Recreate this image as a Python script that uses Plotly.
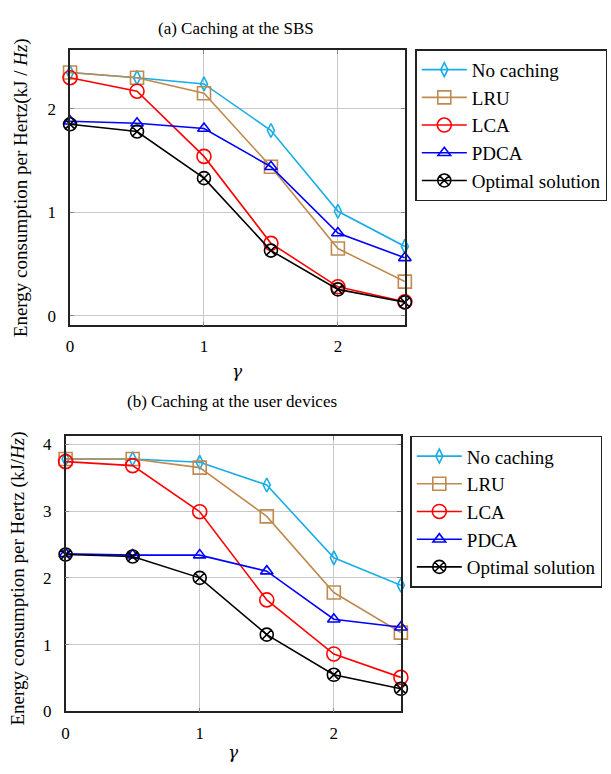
import plotly.graph_objects as go

gamma = [0, 0.5, 1, 1.5, 2, 2.5]
series_names = ["No caching", "LRU", "LCA", "PDCA", "Optimal solution"]

# (a) Caching at the SBS
sbs_no_caching = [2.35, 2.30, 2.24, 1.79, 1.01, 0.67]
sbs_lru = [2.35, 2.30, 2.15, 1.44, 0.65, 0.33]
sbs_lca = [2.30, 2.17, 1.54, 0.70, 0.28, 0.135]
sbs_pdca = [1.88, 1.86, 1.81, 1.44, 0.80, 0.56]
sbs_optimal = [1.85, 1.78, 1.33, 0.63, 0.255, 0.13]

# (b) Caching at the user devices
ud_no_caching = [3.78, 3.78, 3.73, 3.39, 2.30, 1.89]
ud_lru = [3.78, 3.78, 3.65, 2.92, 1.78, 1.18]
ud_lca = [3.74, 3.68, 2.99, 1.67, 0.86, 0.51]
ud_pdca = [2.36, 2.34, 2.34, 2.10, 1.38, 1.26]
ud_optimal = [2.35, 2.32, 2.00, 1.15, 0.55, 0.34]

colors = ["#19ADE8", "#C08A4E", "#FF0000", "#0000FF", "#000000"]
symbols = ["diamond-tall-open", "square-open", "circle-open", "triangle-up-open", "circle-x-open"]
sizes = [10, 13, 14, 11, 13]

FONT = "Liberation Serif"
W, H = 611, 774

def px_x(a, b):
    return [a / W, b / W]

def px_y(top, bottom):
    return [1 - bottom / H, 1 - top / H]

fig = go.Figure()

for data, xa, ya, lg in [
    ([sbs_no_caching, sbs_lru, sbs_lca, sbs_pdca, sbs_optimal], "x", "y", "legend"),
    ([ud_no_caching, ud_lru, ud_lca, ud_pdca, ud_optimal], "x2", "y2", "legend2"),
]:
    for name, vals, c, s, sz in zip(series_names, data, colors, symbols, sizes):
        fig.add_trace(go.Scatter(
            x=gamma, y=vals, name=name, mode="lines+markers",
            line=dict(color=c, width=1.6),
            marker=dict(symbol=s, size=sz, color=c, line=dict(color=c, width=1.6)),
            xaxis=xa, yaxis=ya, legend=lg, cliponaxis=False,
        ))

axis_common = dict(
    showgrid=True, gridcolor="#C8C8C8", gridwidth=1,
    showline=True, linecolor="#222222", linewidth=1.5, mirror="ticks",
    ticks="inside", ticklen=4, tickcolor="#888888",
    zeroline=False, tickfont=dict(family=FONT, size=17, color="black"),
)

legend_common = dict(
    xanchor="left", yanchor="top",
    bordercolor="#222222", borderwidth=1.5, bgcolor="white",
    font=dict(family=FONT, size=19), tracegroupgap=0, itemwidth=45,
)

fig.update_layout(
    width=W, height=H,
    margin=dict(l=0, r=0, t=0, b=0),
    paper_bgcolor="white", plot_bgcolor="white",
    font=dict(family=FONT, size=16, color="black"),
    xaxis=dict(domain=px_x(66.5, 403.5), range=[0, 2.5], tickvals=[0, 1, 2], anchor="y",
               ticklabelstandoff=5, **axis_common),
    yaxis=dict(domain=px_y(50, 329), range=[-0.092, 2.565], tickvals=[0, 1, 2], anchor="x",
               ticklabelstandoff=9, **axis_common),
    xaxis2=dict(domain=px_x(62, 399.5), range=[0, 2.5], tickvals=[0, 1, 2], anchor="y2",
                ticklabelstandoff=5, **axis_common),
    yaxis2=dict(domain=px_y(441.5, 720.7), range=[0, 4.12], tickvals=[0, 1, 2, 3, 4], anchor="x2",
                ticklabelstandoff=9, **axis_common),
    legend=dict(x=414 / W, y=1 - 49 / H, **legend_common),
    legend2=dict(x=409 / W, y=1 - 441 / H, **legend_common),
    annotations=[
        dict(text="(a) Caching at the SBS", x=234 / W, y=1 - 16 / H, xref="paper", yref="paper",
             showarrow=False, font=dict(family=FONT, size=17)),
        dict(text="(b) Caching at the user devices", x=230 / W, y=1 - 406 / H, xref="paper", yref="paper",
             showarrow=False, font=dict(family=FONT, size=17)),
        dict(text="Energy consumption per Hertz(kJ / <i>Hz</i>)", x=17 / W, y=1 - 189 / H,
             xref="paper", yref="paper", xanchor="center", yanchor="middle",
             textangle=-90, showarrow=False, font=dict(family=FONT, size=19)),
        dict(text="Energy consumption per Hertz (kJ/<i>Hz</i>)", x=14 / W, y=1 - 586 / H,
             xref="paper", yref="paper", xanchor="center", yanchor="middle",
             textangle=-90, showarrow=False, font=dict(family=FONT, size=19)),
        dict(text="<i>γ</i>", x=235 / W, y=1 - 375 / H, xref="paper", yref="paper",
             xanchor="center", yanchor="middle",
             showarrow=False, font=dict(family="DejaVu Serif", size=17)),
        dict(text="<i>γ</i>", x=231 / W, y=1 - 762 / H, xref="paper", yref="paper",
             xanchor="center", yanchor="middle",
             showarrow=False, font=dict(family="DejaVu Serif", size=17)),
    ],
)

fig.write_html("out.html")
